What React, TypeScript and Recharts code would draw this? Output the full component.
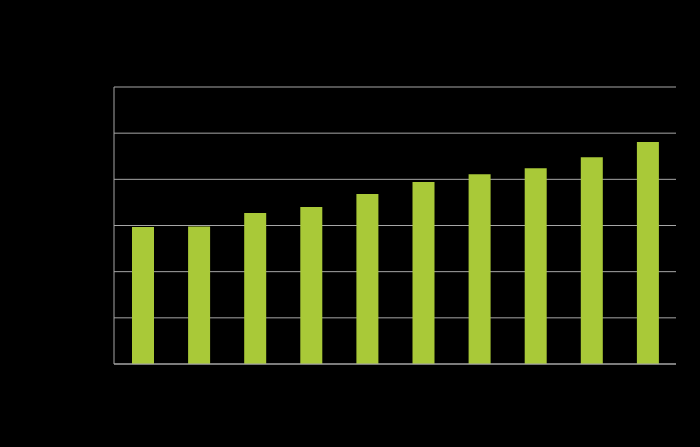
import React from "react";
import { BarChart, Bar, XAxis, YAxis, CartesianGrid } from "recharts";

const categories = ["1", "2", "3", "4", "5", "6", "7", "8", "9", "10"];
const values = [2.97, 2.98, 3.27, 3.4, 3.68, 3.94, 4.11, 4.24, 4.48, 4.81];
const yTicks = [0, 1, 2, 3, 4, 5, 6];

const data = categories.map((c, i) => ({ name: c, value: values[i] }));

export default function App() {
  return (
    <div style={{ position: "absolute", left: 0, top: 0, width: 700, height: 447, background: "#000" }}>
      <BarChart
        width={700}
        height={447}
        data={data}
        margin={{ top: 87, right: 24, left: 54, bottom: 63 }}
        style={{ background: "#000" }}
      >
        <CartesianGrid vertical={false} stroke="#a6a6a6" strokeWidth={1} />
        <XAxis
          dataKey="name"
          height={20}
          padding={{ left: 1, right: 0 }}
          tick={{ fill: "#000", fontSize: 10 }}
          tickLine={false}
          axisLine={{ stroke: "#a6a6a6" }}
        />
        <YAxis
          width={60}
          domain={[0, 6]}
          ticks={yTicks}
          interval={0}
          tick={{ fill: "#000", fontSize: 10 }}
          tickLine={false}
          axisLine={{ stroke: "#a6a6a6" }}
        />
        <Bar dataKey="value" fill="#a9c938" barSize={22} isAnimationActive={false} />
      </BarChart>
    </div>
  );
}
